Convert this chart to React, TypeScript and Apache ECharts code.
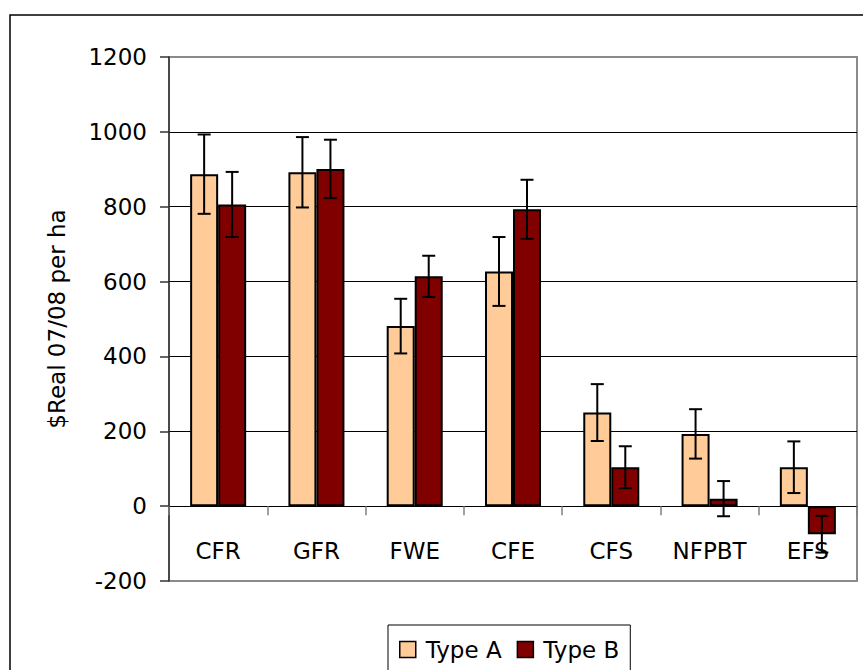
import React, { useEffect, useRef } from "react";
import * as echarts from "echarts";

const categories = ["CFR", "GFR", "FWE", "CFE", "CFS", "NFPBT", "EFS"];
const typeA = [887, 892, 481, 627, 250, 193, 104];
const typeB = [806, 901, 614, 793, 104, 20, -75];
const errA = [106, 94, 73, 92, 76, 66, 69];
const errB = [87, 78, 55, 79, 56, 47, 49];
const seriesNames = ["Type A", "Type B"];
const yTicks = { min: -200, max: 1200, interval: 200 };

const FONT = "'DejaVu Sans', Verdana, sans-serif";
const CAT_GAP = 0.43;

function errData(vals: number[], errs: number[]) {
  return vals.map((v, i) => [i, v - errs[i], v + errs[i]]);
}

function makeErrSeries(name: string, vals: number[], errs: number[], side: number) {
  return {
    type: "custom",
    name: name + " error",
    z: 5,
    silent: true,
    encode: { x: 0, y: [1, 2] },
    data: errData(vals, errs),
    renderItem: (params: any, api: any) => {
      const idx = api.value(0);
      const lo = api.value(1);
      const hi = api.value(2);
      const band = api.size([1, 0])[0];
      const barW = (band * (1 - CAT_GAP)) / 2;
      const cx = api.coord([idx, 0])[0] + (side * barW) / 2;
      const yHi = api.coord([idx, hi])[1];
      const yLo = api.coord([idx, lo])[1];
      const cap = 6.5;
      const style = { stroke: "#000", lineWidth: 2 };
      return {
        type: "group",
        children: [
          { type: "line", shape: { x1: cx, y1: yHi, x2: cx, y2: yLo }, style },
          { type: "line", shape: { x1: cx - cap, y1: yHi, x2: cx + cap, y2: yHi }, style },
          { type: "line", shape: { x1: cx - cap, y1: yLo, x2: cx + cap, y2: yLo }, style },
        ],
      };
    },
  };
}

export default function App() {
  const ref = useRef<HTMLDivElement>(null);
  useEffect(() => {
    if (!ref.current) return;
    const chart = echarts.init(ref.current, null, { renderer: "svg" });
    chart.setOption({
      animation: false,
      backgroundColor: "#fff",
      textStyle: { fontFamily: FONT },
      graphic: [
        {
          type: "rect",
          shape: { x: 10, y: 15, width: 880, height: 700 },
          style: { fill: "none", stroke: "#000", lineWidth: 1.5 },
          z: 0,
        },
      ],
      grid: {
        left: 169,
        top: 57,
        width: 688,
        height: 524,
        containLabel: false,
        outerBoundsMode: "none",
        show: true,
        borderColor: "#8a8a8a",
        borderWidth: 2,
        backgroundColor: "transparent",
      },
      legend: {
        data: seriesNames,
        left: 388,
        top: 625,
        orient: "horizontal",
        padding: [13, 11, 20, 11],
        borderColor: "#000",
        borderWidth: 1,
        itemWidth: 16,
        itemHeight: 16,
        itemGap: 15,
        icon: "rect",
        itemStyle: { borderColor: "#000", borderWidth: 1.5 },
        textStyle: { fontFamily: FONT, fontSize: 23, color: "#000", padding: [0, 0, 0, 5] },
      },
      xAxis: {
        type: "category",
        data: categories,
        axisLine: { onZero: true, lineStyle: { color: "#000", width: 1 } },
        axisTick: { show: true, length: 9, lineStyle: { color: "#808080", width: 1.5 } },
        axisLabel: { fontFamily: FONT, fontSize: 23, color: "#000", margin: -42 },
        splitLine: { show: false },
      },
      yAxis: {
        type: "value",
        min: yTicks.min,
        max: yTicks.max,
        interval: yTicks.interval,
        name: "$Real 07/08 per ha",
        nameLocation: "middle",
        nameGap: 101,
        nameRotate: 90,
        nameTextStyle: { fontFamily: FONT, fontSize: 23, color: "#000" },
        axisLine: { show: true, lineStyle: { color: "#333", width: 1.5 } },
        axisTick: { show: true, length: 9, lineStyle: { color: "#333", width: 1.5 } },
        axisLabel: {
          fontFamily: FONT,
          fontSize: 23,
          color: "#000",
          margin: 22,
          formatter: (v: number) => String(v),
        },
        splitLine: { show: true, showMinLine: false, showMaxLine: false, lineStyle: { color: "#000", width: 1 } },
      },
      series: [
        {
          type: "bar",
          name: seriesNames[0],
          data: typeA,
          barGap: "0%",
          barCategoryGap: CAT_GAP * 100 + "%",
          itemStyle: { color: "#FFCC99", borderColor: "#000", borderWidth: 2 },
          z: 2,
        },
        {
          type: "bar",
          name: seriesNames[1],
          data: typeB,
          barGap: "0%",
          barCategoryGap: CAT_GAP * 100 + "%",
          itemStyle: { color: "#800000", borderColor: "#000", borderWidth: 2 },
          z: 2,
        },
        makeErrSeries(seriesNames[0], typeA, errA, -1),
        makeErrSeries(seriesNames[1], typeB, errB, 1),
      ],
    });
    return () => chart.dispose();
  }, []);
  return (
    <div
      ref={ref}
      style={{ position: "absolute", left: 0, top: 0, width: 863, height: 670 }}
    />
  );
}
